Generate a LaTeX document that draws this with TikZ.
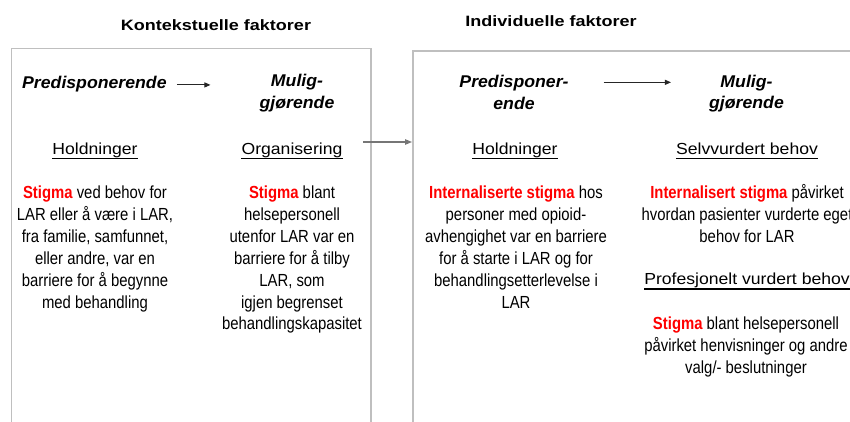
\documentclass[tikz,border=0pt]{standalone}
\usepackage{fontspec}
\setmainfont{Liberation Sans}
% Width-adjusted cuts of the same family for the different text roles
\newfontfamily\titlefont[FakeStretch=1.2]{Liberation Sans}
\newfontfamily\subfont[FakeStretch=1.04]{Liberation Sans}
\newfontfamily\headfont[FakeStretch=1.1]{Liberation Sans}
\newfontfamily\bodyfont[FakeStretch=0.85]{Liberation Sans}
\usetikzlibrary{arrows.meta}

\definecolor{stigmared}{RGB}{255,0,0}
\definecolor{framegray}{RGB}{191,191,191}
\definecolor{linkgray}{RGB}{118,118,118}
\definecolor{inkgray}{RGB}{38,38,38}

\newcommand{\hl}[1]{\textbf{\textcolor{stigmared}{#1}}}
% fixed height for the first line of a block, so its top edge sits at a known place
\newcommand{\topstrut}{\rule{0pt}{0.8em}}

\begin{document}
\begin{tikzpicture}[x=1pt,y=-1pt,
  boxline/.style={draw=framegray, line width=1.5pt, inner sep=0pt, anchor=north west},
  titletext/.style={font=\titlefont\bfseries\fontsize{15}{18}\selectfont, inner sep=0pt, anchor=base},
  subtext/.style={font=\subfont\bfseries\itshape\fontsize{17}{21.5}\selectfont, inner sep=0pt, align=center},
  headtext/.style={font=\headfont\fontsize{16}{19}\selectfont, inner sep=0pt, anchor=base,
    text depth=4.5pt,
    append after command={(\tikzlastnode.south west) edge[line width=1.1pt, draw=black] (\tikzlastnode.south east)}},
  bodytext/.style={font=\bodyfont\fontsize{17.5}{21.9}\selectfont, inner sep=0pt, align=center, anchor=north},
  flow/.style={-{Triangle[length=6pt,width=5pt]}, line width=0.9pt, draw=inkgray},
  link/.style={-{Triangle[length=7pt,width=5.5pt]}, line width=1.1pt, draw=linkgray}]

\useasboundingbox (0,0) rectangle (850,421);

% frames of the two groups (open towards the bottom and the right)
\node[boxline, minimum width=359.5pt, minimum height=420pt] (ctxbox) at (10.5,47.5) {};
\node[boxline, minimum width=480pt, minimum height=420pt] (indbox) at (412,50) {};

% group titles
\node[titletext] (ctxtitle) at (216,30.7) {Kontekstuelle faktorer};
\node[titletext] (indtitle) at (551,26.7) {Individuelle faktorer};

% column titles
\node[subtext, anchor=base west] (ctxpre) at (22,88.3) {Predisponerende};
\node[subtext, anchor=north] (ctxmul) at (297,72.9) {\topstrut Mulig-\\gjørende};
\node[subtext, anchor=north] (indpre) at (514,73.7) {\topstrut Predisponer-\\ende};
\node[subtext, anchor=north] (indmul) at (746.5,73.4) {\topstrut Mulig-\\gjørende};

\draw[flow, shorten <=10pt, shorten >=49pt] ([yshift=-1pt]ctxpre.east) -- ([yshift=-1pt]ctxpre.east -| ctxmul.west);
\draw[flow, shorten <=35pt, shorten >=38pt] ([yshift=9.2pt]indpre.east) -- ([yshift=9.2pt]indpre.east -| indmul.west);

% link from the contextual group to the individual group
\coordinate (linkstart) at (363,142);
\draw[link] (linkstart) -- (linkstart -| indbox.west);

% underlined headings
\node[headtext] (ctxhold) at (95,154) {Holdninger};
\node[headtext] (ctxorg) at (292,154) {Organisering};
\node[headtext] (indhold) at (515,154) {Holdninger};
\node[headtext] (indself) at (747,154) {Selvvurdert behov};
\node[headtext] (indprof) at (747,284.3) {Profesjonelt vurdert behov};

% findings
\node[bodytext] (ctxholdtext) at (95,184.3) {\topstrut\hl{Stigma} ved behov for\\LAR eller å være i LAR,\\fra familie, samfunnet,\\eller andre, var en\\barriere for å begynne\\med behandling};
\node[bodytext] (ctxorgtext) at (292,184.3) {\topstrut\hl{Stigma} blant\\helsepersonell\\utenfor LAR var en\\barriere for å tilby\\LAR, som\\igjen begrenset\\behandlingskapasitet};
\node[bodytext] (indholdtext) at (516,184.3) {\topstrut\hl{Internaliserte stigma} hos\\personer med opioid-\\avhengighet var en barriere\\for å starte i LAR og for\\behandlingsetterlevelse i\\LAR};
\node[bodytext] (indselftext) at (747,184.3) {\topstrut\hl{Internalisert stigma} påvirket\\hvordan pasienter vurderte eget\\behov for LAR};
\node[bodytext] (indproftext) at (746,315.7) {\topstrut\hl{Stigma} blant helsepersonell\\påvirket henvisninger og andre\\valg/- beslutninger};
\end{tikzpicture}
\end{document}
